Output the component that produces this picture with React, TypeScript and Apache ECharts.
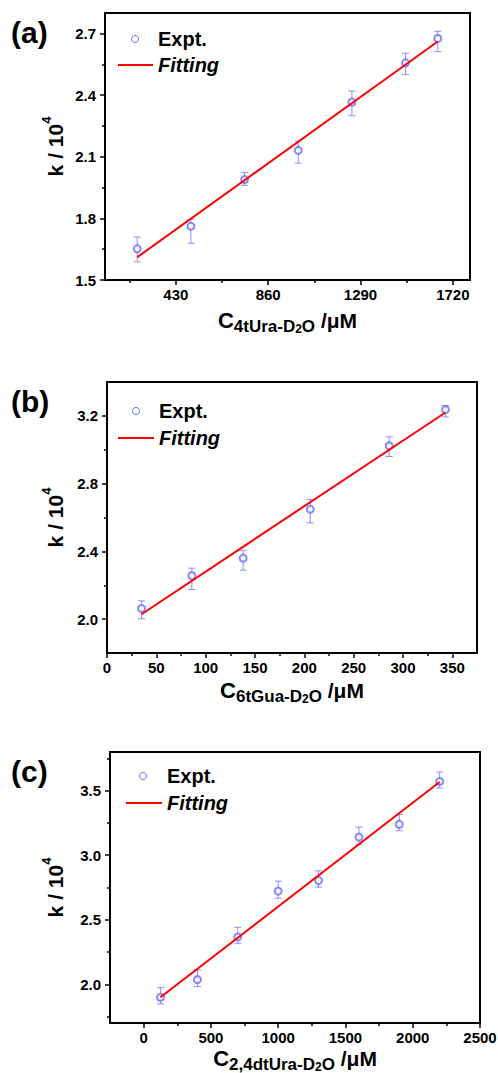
import React, { useEffect, useRef } from "react";
import * as echarts from "echarts";

// ---------- data ----------
const A_X = [250, 500, 750, 1000, 1250, 1500, 1650];
const A_Y = [1.652, 1.762, 1.989, 2.131, 2.366, 2.557, 2.676];
const A_LO = [0.064, 0.083, 0.028, 0.062, 0.066, 0.057, 0.064];
const A_HI = [0.057, 0.033, 0.034, 0.046, 0.054, 0.047, 0.035];
const A_FIT_X = [250, 1650];
const A_FIT_Y = [1.611, 2.661];

const B_X = [35, 86, 138, 206, 286, 343];
const B_Y = [2.063, 2.256, 2.36, 2.649, 3.023, 3.237];
const B_LO = [0.061, 0.081, 0.071, 0.081, 0.063, 0.043];
const B_HI = [0.045, 0.045, 0.047, 0.057, 0.053, 0.024];
const B_FIT_X = [35, 343];
const B_FIT_Y = [2.029, 3.22];

const C_X = [125, 400, 700, 1000, 1300, 1600, 1900, 2200];
const C_Y = [1.899, 2.036, 2.367, 2.722, 2.804, 3.141, 3.239, 3.572];
const C_LO = [0.051, 0.054, 0.049, 0.055, 0.051, 0.057, 0.049, 0.051];
const C_HI = [0.075, 0.075, 0.075, 0.077, 0.075, 0.077, 0.077, 0.073];
const C_FIT_X = [125, 2200];
const C_FIT_Y = [1.899, 3.567];

// tick values
const A_XMAJOR = [430, 860, 1290, 1720];
const A_XMINOR = [215, 645, 1075, 1505];
const A_YMAJOR = [1.5, 1.8, 2.1, 2.4, 2.7];
const A_YMINOR = [1.65, 1.95, 2.25, 2.55];

const B_XMAJOR = [0, 50, 100, 150, 200, 250, 300, 350];
const B_XMINOR = [25, 75, 125, 175, 225, 275, 325];
const B_YMAJOR = [2.0, 2.4, 2.8, 3.2];
const B_YMINOR = [2.2, 2.6, 3.0];

const C_XMAJOR = [0, 500, 1000, 1500, 2000, 2500];
const C_XMINOR = [250, 750, 1250, 1750, 2250];
const C_YMAJOR = [2.0, 2.5, 3.0, 3.5];
const C_YMINOR = [1.75, 2.25, 2.75, 3.25, 3.75];

const LEGEND_EXPT = "Expt.";
const LEGEND_FIT = "Fitting";

const FONT = '"Liberation Sans", Arial, Helvetica, sans-serif';
const MARK = "#6a6aff";
const ERR = "#8c8cff";
const RED = "#ff0000";

type Panel = {
  grid: { left: number; top: number; width: number; height: number };
  xMin: number; xMax: number; yMin: number; yMax: number;
  xMajor: number[]; xMinor: number[]; yMajor: number[]; yMinor: number[];
  yDec: number;
  x: number[]; y: number[]; lo: number[]; hi: number[];
  fx: number[]; fy: number[];
  sub: string; xGap: number; yGap: number;
  label: string;
  legend: { cx: number; cy: number; tx: number; ly: number; l1: number; l2: number };
};

const PANELS: Panel[] = [
  {
    grid: { left: 105, top: 13, width: 365, height: 267 },
    xMin: 100, xMax: 1800, yMin: 1.5, yMax: 2.8,
    xMajor: A_XMAJOR, xMinor: A_XMINOR, yMajor: A_YMAJOR, yMinor: A_YMINOR, yDec: 1,
    x: A_X, y: A_Y, lo: A_LO, hi: A_HI, fx: A_FIT_X, fy: A_FIT_Y,
    sub: "4tUra-D", xGap: 30, yGap: 37, label: "(a)",
    legend: { cx: 135, cy: 39, tx: 158, ly: 65, l1: 118, l2: 153 },
  },
  {
    grid: { left: 107, top: 382, width: 370, height: 271 },
    xMin: 0, xMax: 375, yMin: 1.8, yMax: 3.4,
    xMajor: B_XMAJOR, xMinor: B_XMINOR, yMajor: B_YMAJOR, yMinor: B_YMINOR, yDec: 1,
    x: B_X, y: B_Y, lo: B_LO, hi: B_HI, fx: B_FIT_X, fy: B_FIT_Y,
    sub: "6tGua-D", xGap: 27, yGap: 39, label: "(b)",
    legend: { cx: 136, cy: 411, tx: 159, ly: 438, l1: 118, l2: 154 },
  },
  {
    grid: { left: 110, top: 752, width: 370, height: 271 },
    xMin: -250, xMax: 2500, yMin: 1.7, yMax: 3.8,
    xMajor: C_XMAJOR, xMinor: C_XMINOR, yMajor: C_YMAJOR, yMinor: C_YMINOR, yDec: 1,
    x: C_X, y: C_Y, lo: C_LO, hi: C_HI, fx: C_FIT_X, fy: C_FIT_Y,
    sub: "2,4dtUra-D", xGap: 25, yGap: 42, label: "(c)",
    legend: { cx: 143, cy: 776, tx: 167, ly: 803, l1: 126, l2: 162 },
  },
];

const labelStyle = {
  fontSize: 15,
  fontWeight: "bold" as const,
  fontFamily: FONT,
  color: "#000",
  lineHeight: 15,
};

function buildOption() {
  const grid: any[] = [];
  const xAxis: any[] = [];
  const yAxis: any[] = [];
  const series: any[] = [];
  const graphic: any[] = [];

  PANELS.forEach((p, i) => {
    grid.push({
      ...p.grid,
      show: true,
      borderColor: "#000",
      borderWidth: 2,
      backgroundColor: "transparent",
      containLabel: false,
      outerBoundsMode: "none",
    });
    // major x
    xAxis.push({
      gridIndex: i,
      type: "value",
      min: p.xMin,
      max: p.xMax,
      position: "bottom",
      axisLine: { show: true, onZero: false, lineStyle: { color: "#000", width: 2 } },
      axisTick: { show: true, length: 5, customValues: p.xMajor, lineStyle: { color: "#000", width: 1.5 } },
      axisLabel: { ...labelStyle, margin: 7, customValues: p.xMajor, formatter: (v: number) => String(v) },
      splitLine: { show: false },
      name: `{c|C}{s|${p.sub}}{s2|2}{s|O}{u| /μM}`,
      nameLocation: "middle",
      nameGap: p.xGap,
      nameMoveOverlap: false,
      nameTextStyle: {
        rich: {
          c: { fontSize: 22, fontWeight: "bold", fontFamily: FONT, color: "#000", lineHeight: 20 },
          s: { fontSize: 17, fontWeight: "bold", fontFamily: FONT, color: "#000", lineHeight: 20, padding: [13, 0, 0, 0] },
          s2: { fontSize: 12, fontWeight: "bold", fontFamily: FONT, color: "#000", lineHeight: 20, padding: [17, 0, 0, 0] },
          u: { fontSize: 21, fontWeight: "bold", fontFamily: FONT, color: "#000", lineHeight: 20 },
        },
      },
    });
    // minor x
    xAxis.push({
      gridIndex: i,
      type: "value",
      min: p.xMin,
      max: p.xMax,
      position: "bottom",
      axisLine: { show: false, onZero: false },
      axisTick: { show: true, length: 3, customValues: p.xMinor, lineStyle: { color: "#000", width: 1.5 } },
      axisLabel: { show: false },
      splitLine: { show: false },
    });
    // major y
    yAxis.push({
      gridIndex: i,
      type: "value",
      min: p.yMin,
      max: p.yMax,
      position: "left",
      axisLine: { show: true, onZero: false, lineStyle: { color: "#000", width: 2 } },
      axisTick: { show: true, length: 5, customValues: p.yMajor, lineStyle: { color: "#000", width: 1.5 } },
      axisLabel: {
        ...labelStyle,
        margin: 9,
        customValues: p.yMajor,
        formatter: (v: number) => v.toFixed(p.yDec),
      },
      splitLine: { show: false },
      name: "{m|k / 10}{p|4}",
      nameLocation: "middle",
      nameGap: p.yGap,
      nameRotate: 90,
      nameMoveOverlap: false,
      nameTextStyle: {
        rich: {
          m: { fontSize: 21, fontWeight: "bold", fontFamily: FONT, color: "#000", lineHeight: 26 },
          p: { fontSize: 13, fontWeight: "bold", fontFamily: FONT, color: "#000", lineHeight: 26, height: 9, verticalAlign: "top" },
        },
      },
    });
    // minor y
    yAxis.push({
      gridIndex: i,
      type: "value",
      min: p.yMin,
      max: p.yMax,
      position: "left",
      axisLine: { show: false, onZero: false },
      axisTick: { show: true, length: 3, customValues: p.yMinor, lineStyle: { color: "#000", width: 1.5 } },
      axisLabel: { show: false },
      splitLine: { show: false },
    });

    const xi = 2 * i;
    const yi = 2 * i;
    series.push({
      type: "custom",
      name: LEGEND_EXPT + " err " + i,
      xAxisIndex: xi,
      yAxisIndex: yi,
      data: p.x.map((x, k) => [x, p.y[k], p.lo[k], p.hi[k]]),
      encode: { x: 0, y: 1 },
      z: 2,
      renderItem: (params: any, api: any) => {
        const x = api.value(0);
        const y = api.value(1);
        const lo = api.value(2);
        const hi = api.value(3);
        const t = api.coord([x, y + hi]);
        const b = api.coord([x, y - lo]);
        const w = 3.5;
        const st = { stroke: ERR, lineWidth: 1 };
        return {
          type: "group",
          children: [
            { type: "line", shape: { x1: t[0], y1: t[1], x2: b[0], y2: b[1] }, style: st },
            { type: "line", shape: { x1: t[0] - w, y1: t[1], x2: t[0] + w, y2: t[1] }, style: st },
            { type: "line", shape: { x1: b[0] - w, y1: b[1], x2: b[0] + w, y2: b[1] }, style: st },
          ],
        };
      },
    });
    series.push({
      type: "scatter",
      name: LEGEND_EXPT,
      xAxisIndex: xi,
      yAxisIndex: yi,
      data: p.x.map((x, k) => [x, p.y[k]]),
      symbol: "emptyCircle",
      symbolSize: 7,
      itemStyle: { color: MARK, borderColor: MARK, borderWidth: 1 },
      z: 3,
    });
    series.push({
      type: "line",
      name: LEGEND_FIT,
      xAxisIndex: xi,
      yAxisIndex: yi,
      data: p.fx.map((x, k) => [x, p.fy[k]]),
      showSymbol: false,
      symbol: "none",
      lineStyle: { color: RED, width: 2 },
      z: 4,
    });

    // panel label
    graphic.push({
      type: "text",
      x: 11,
      y: p.grid.top + 19,
      style: { text: p.label, fontSize: 30, fontWeight: "bold", fontFamily: FONT, fill: "#000", verticalAlign: "middle" },
    });
    // legend
    const L = p.legend;
    graphic.push({
      type: "circle",
      shape: { cx: L.cx, cy: L.cy, r: 3.5 },
      style: { fill: "#fff", stroke: MARK, lineWidth: 1 },
    });
    graphic.push({
      type: "text",
      x: L.tx,
      y: L.cy,
      style: { text: LEGEND_EXPT, fontSize: 20, fontWeight: "bold", fontFamily: FONT, fill: "#000", verticalAlign: "middle" },
    });
    graphic.push({
      type: "line",
      shape: { x1: L.l1, y1: L.ly, x2: L.l2, y2: L.ly },
      style: { stroke: RED, lineWidth: 2 },
    });
    graphic.push({
      type: "text",
      x: L.tx,
      y: L.ly,
      style: { text: LEGEND_FIT, fontSize: 20, fontWeight: "bold", fontStyle: "italic", fontFamily: FONT, fill: "#000", verticalAlign: "middle" },
    });
  });

  return {
    animation: false,
    backgroundColor: "#fff",
    grid,
    xAxis,
    yAxis,
    series,
    graphic,
  };
}

export default function App() {
  const ref = useRef<HTMLDivElement>(null);
  useEffect(() => {
    if (!ref.current) return;
    const chart = echarts.init(ref.current, null, { renderer: "svg" });
    chart.setOption(buildOption() as any);
    return () => chart.dispose();
  }, []);
  return (
    <div
      ref={ref}
      style={{ position: "absolute", left: 0, top: 0, width: 498, height: 1073, background: "#fff" }}
    />
  );
}
